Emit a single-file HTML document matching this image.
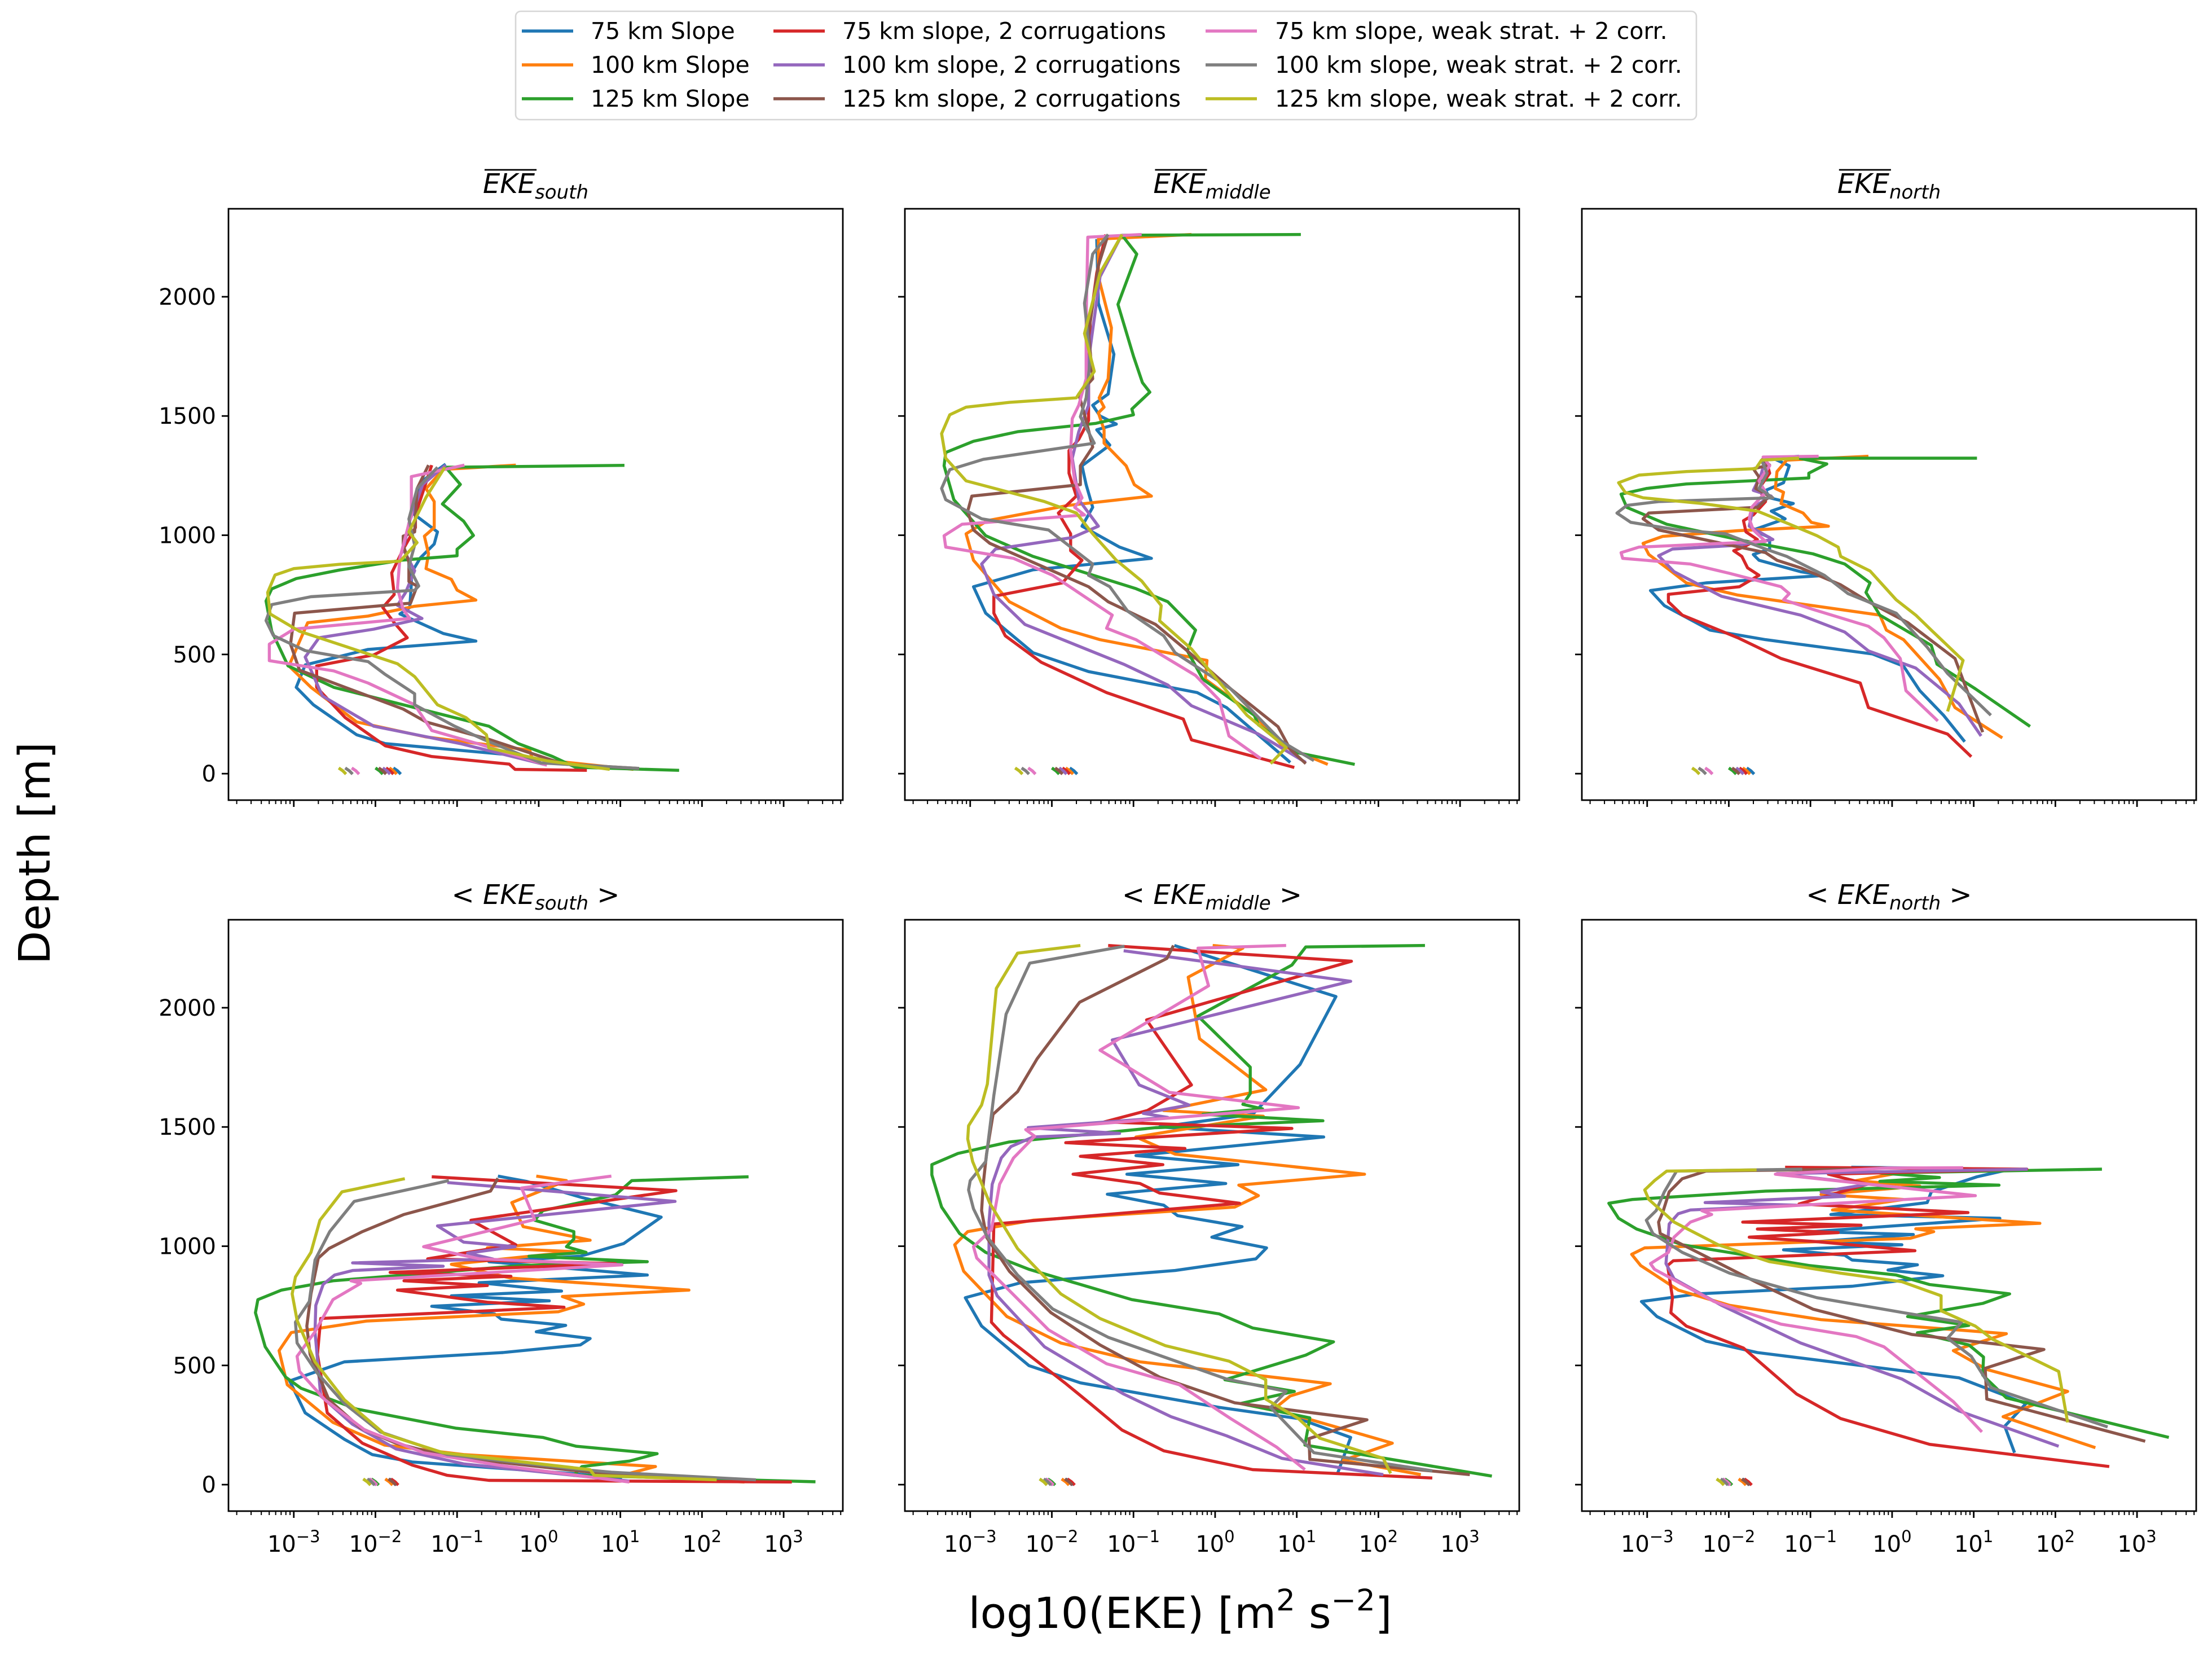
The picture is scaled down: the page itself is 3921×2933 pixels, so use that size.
<!DOCTYPE html>
<html><head><meta charset="utf-8">
<style>
html,body{margin:0;padding:0;background:#fff;}
svg{display:block;font-family:"DejaVu Sans","Liberation Sans",sans-serif;}
</style></head>
<body>
<svg id="fig" xmlns="http://www.w3.org/2000/svg" width="3921" height="2933" viewBox="0 0 3921 2933">
<rect x="0" y="0" width="3921" height="2933" fill="#fff"/>
<text transform="translate(88,1512) rotate(-90)" text-anchor="middle" font-size="77">Depth [m]</text>
<text x="2092" y="2885" text-anchor="middle" font-size="76">log10(EKE) [m<tspan font-size="53" dy="-31">2</tspan><tspan dy="31"> s</tspan><tspan font-size="53" dy="-31">−2</tspan><tspan dy="31">]</tspan></text>
</svg>
<script>
// ---------------- data: [log10(EKE), depth m] ----------------
const seriesLabels = ["75 km Slope","100 km Slope","125 km Slope","75 km slope, 2 corrugations","100 km slope, 2 corrugations","125 km slope, 2 corrugations","75 km slope, weak strat. + 2 corr.","100 km slope, weak strat. + 2 corr.","125 km slope, weak strat. + 2 corr."];
const seriesColors = ["#1f77b4","#ff7f0e","#2ca02c","#d62728","#9467bd","#8c564b","#e377c2","#7f7f7f","#bcbd22"];
const yTickValues = [0,500,1000,1500,2000];
const xTickExponents = [-3,-2,-1,0,1,2,3];
const topMarkerEke = [-1.73,-1.78,-1.95,-1.82,-1.86,-1.91,-2.24,-2.32,-2.40];
const bottomMarkerEke = [-1.78,-1.83,-2.0,-1.76,-2.03,-1.79,-2.02,-2.05,-2.10];

// top-left: mean EKE south
const tlBlue=[[-1.14,1298],[-1.45,1222],[-1.52,1086],[-1.24,1014],[-1.28,963],[-1.45,905],[-1.56,842],[-1.56,796],[-1.58,697],[-1.7,670],[-1.17,588],[-0.77,556],[-2.09,521],[-2.86,456],[-2.97,362],[-2.76,289],[-2.23,163],[-1.88,126],[-0.25,76],[0.45,36]];
const tlOrange=[[-0.28,1294],[-1.17,1276],[-1.38,1195],[-1.28,1141],[-1.28,1032],[-1.4,996],[-1.35,923],[-1.38,860],[-1.07,815],[-1.0,770],[-0.77,728],[-1.52,702],[-2.09,661],[-2.83,633],[-3.06,452],[-2.79,362],[-2.23,217],[-1.38,154],[-0.11,99],[-0.08,63],[1.16,18]];
const tlGreen=[[1.05,1293],[-1.14,1285],[-0.96,1213],[-1.18,1131],[-0.92,1059],[-0.8,999],[-1.0,941],[-1.0,914],[-1.66,896],[-2.44,854],[-2.97,818],[-3.27,775],[-3.34,724],[-3.27,597],[-3.07,452],[-2.51,362],[-1.66,289],[-0.61,199],[-0.25,126],[0.17,72],[0.45,27],[1.72,14]];
const tlRed=[[-1.31,1294],[-1.51,1086],[-1.51,1032],[-1.66,941],[-1.8,842],[-1.77,751],[-1.91,697],[-1.77,633],[-1.61,570],[-2.02,498],[-2.72,452],[-2.72,362],[-2.37,235],[-1.88,117],[-1.31,72],[-0.36,40],[-0.29,18],[0.59,14]];
const tlPurple=[[-1.14,1294],[-1.42,1213],[-1.59,1050],[-1.66,941],[-1.52,851],[-1.63,760],[-1.73,706],[-1.43,651],[-2.02,606],[-2.69,570],[-2.86,489],[-2.65,326],[-2.02,199],[-0.96,126],[0.1,36]];
const tlBrown=[[-1.35,1294],[-1.49,1195],[-1.52,1014],[-1.66,996],[-1.66,959],[-1.59,887],[-1.59,806],[-1.49,787],[-1.57,715],[-1.88,706],[-2.99,673],[-3.04,543],[-2.93,434],[-2.37,362],[-1.66,271],[-1.38,217],[-0.61,144],[0.31,40],[1.23,22]];
const tlPink=[[-0.91,1294],[-1.56,1246],[-1.56,1086],[-1.63,996],[-1.7,905],[-1.73,778],[-1.66,688],[-1.58,651],[-3.0,606],[-3.3,543],[-3.3,474],[-2.51,431],[-2.09,380],[-1.52,289],[-1.31,181],[-0.75,126],[0.1,36]];
const tlGray=[[-1.24,1285],[-1.49,1195],[-1.59,1068],[-1.52,959],[-1.59,869],[-1.47,787],[-1.52,769],[-2.79,742],[-3.27,709],[-3.34,642],[-3.25,579],[-2.86,516],[-2.09,470],[-1.88,416],[-1.52,335],[-1.52,289],[-1.03,199],[-0.68,144],[0.03,45],[1.23,22]];
const tlOlive=[[-1.15,1285],[-1.38,1159],[-1.59,1014],[-1.49,969],[-1.66,905],[-1.7,891],[-2.44,878],[-3.0,860],[-3.23,833],[-3.32,760],[-3.29,670],[-2.93,597],[-2.37,534],[-1.73,461],[-1.52,407],[-1.24,289],[-0.89,235],[-0.64,163],[-0.61,108],[0.1,54],[0.87,18]];

// top-middle: mean EKE middle
const tmBlue=[[-1.45,2242],[-1.43,1973],[-1.24,1759],[-1.31,1592],[-1.5,1545],[-1.41,1500],[-1.21,1466],[-1.45,1442],[-1.29,1378],[-1.63,1291],[-1.58,1212],[-1.5,1117],[-1.63,1038],[-1.17,950],[-0.78,903],[-2.23,855],[-2.96,784],[-2.81,673],[-2.23,507],[-1.55,428],[-0.22,340],[0.14,277],[0.92,47]];
const tmOrange=[[-0.29,2261],[-1.43,2242],[-1.43,2084],[-1.27,1870],[-1.31,1656],[-1.42,1576],[-1.36,1537],[-1.43,1513],[-1.36,1442],[-1.36,1386],[-1.09,1291],[-0.99,1212],[-0.78,1164],[-1.8,1125],[-2.79,1061],[-3.05,1006],[-2.96,895],[-2.52,721],[-1.89,610],[-1.41,562],[-0.1,475],[-0.12,396],[0.48,245],[0.82,118],[1.38,39]];
const tmGreen=[[1.05,2261],[-1.14,2258],[-0.96,2179],[-1.19,1968],[-1.0,1751],[-0.89,1640],[-0.8,1600],[-1.02,1529],[-1.0,1505],[-1.46,1469],[-2.42,1434],[-2.96,1394],[-3.3,1347],[-3.32,1291],[-3.2,1149],[-2.81,998],[-2.23,911],[-0.97,776],[-0.58,721],[-0.24,602],[-0.34,515],[-0.15,396],[0.48,245],[0.53,205],[1.02,87],[1.71,39]];
const tmRed=[[-1.34,2261],[-1.45,2100],[-1.53,1894],[-1.55,1672],[-1.55,1481],[-1.67,1402],[-1.79,1355],[-1.79,1260],[-1.7,1164],[-1.92,1093],[-1.77,1006],[-1.77,935],[-1.63,895],[-1.87,800],[-2.71,744],[-2.71,673],[-2.57,578],[-2.13,467],[-1.33,340],[-0.39,229],[-0.29,142],[0.97,26]];
const tmPurple=[[-1.14,2261],[-1.41,2084],[-1.55,1735],[-1.55,1545],[-1.67,1434],[-1.75,1323],[-1.67,1149],[-1.43,1038],[-1.75,990],[-2.69,942],[-2.86,879],[-2.71,752],[-2.33,626],[-1.12,459],[-0.58,372],[-0.29,285],[0.53,166],[1.11,47]];
const tmBrown=[[-1.31,2261],[-1.43,2131],[-1.55,1846],[-1.5,1656],[-1.67,1592],[-1.58,1481],[-1.5,1370],[-1.65,1291],[-1.65,1212],[-2.98,1164],[-3.03,1101],[-2.96,1022],[-2.76,966],[-1.55,784],[-1.31,721],[-0.73,626],[-0.34,515],[0.19,356],[0.77,197],[0.92,102],[1.11,42]];
const tmPink=[[-0.9,2261],[-1.56,2250],[-1.58,1894],[-1.58,1656],[-1.67,1545],[-1.75,1489],[-1.77,1355],[-1.72,1228],[-1.63,1157],[-1.72,1117],[-1.6,1085],[-3.1,1046],[-3.32,998],[-3.3,950],[-2.47,903],[-1.99,832],[-1.26,665],[-1.33,610],[-0.97,562],[-0.24,412],[0.05,309],[0.17,158],[0.56,63]];
const tmGray=[[-1.31,2261],[-1.5,2179],[-1.6,1973],[-1.53,1735],[-1.58,1576],[-1.65,1497],[-1.48,1386],[-2.84,1318],[-3.25,1275],[-3.35,1196],[-3.3,1149],[-2.86,1069],[-2.04,1022],[-1.5,879],[-1.55,832],[-1.29,784],[-1.07,681],[-0.63,578],[-0.49,507],[0.19,356],[0.82,134],[1.21,55]];
const tmOlive=[[-1.14,2261],[-1.41,2100],[-1.6,1846],[-1.48,1687],[-1.67,1592],[-1.7,1576],[-2.52,1557],[-3.05,1537],[-3.25,1505],[-3.35,1426],[-3.3,1323],[-3.05,1228],[-2.09,1141],[-1.7,1093],[-1.5,1006],[-1.21,895],[-0.9,808],[-0.66,705],[-0.68,641],[-0.29,523],[0.39,245],[0.87,110],[0.68,42]];

// top-right: mean EKE north
const trBlue=[[-1.14,1331],[-1.46,1323],[-1.26,1291],[-1.33,1220],[-1.55,1188],[-1.5,1157],[-1.21,1133],[-1.48,1101],[-1.31,1069],[-1.7,1022],[-1.5,990],[-1.5,942],[-1.7,919],[-1.63,895],[-1.12,847],[-0.83,831],[-2.28,800],[-2.96,768],[-2.79,705],[-2.23,602],[-1.55,562],[-0.24,502],[0.14,451],[0.34,348],[0.63,245],[0.89,134]];
const trOrange=[[-0.29,1331],[-1.29,1315],[-1.41,1267],[-1.43,1196],[-1.33,1180],[-1.36,1133],[-1.09,1093],[-0.99,1054],[-0.78,1038],[-1.89,1019],[-2.81,995],[-3.05,966],[-2.98,919],[-2.76,863],[-2.52,800],[-1.89,749],[-1.31,721],[-0.15,665],[-0.07,602],[0.14,562],[0.58,396],[0.77,277],[1.35,150]];
const trGreen=[[1.04,1323],[-1.14,1323],[-0.8,1299],[-1.02,1260],[-1.02,1240],[-2.52,1215],[-3.01,1196],[-3.32,1172],[-3.25,1117],[-2.76,1046],[-1.89,982],[-0.97,922],[-0.58,879],[-0.27,800],[-0.32,760],[-0.15,665],[0.48,538],[0.55,459],[1.02,356],[1.69,198]];
const trRed=[[-1.55,1323],[-1.5,1260],[-1.63,1196],[-1.55,1141],[-1.7,1085],[-1.82,1061],[-1.79,1014],[-1.65,982],[-1.82,950],[-1.94,935],[-1.84,911],[-1.77,863],[-1.63,832],[-1.87,784],[-2.74,752],[-2.74,721],[-2.57,665],[-1.89,570],[-1.36,483],[-0.39,380],[-0.29,277],[0.68,166],[0.97,71]];
const trPurple=[[-1.55,1323],[-1.6,1260],[-1.7,1188],[-1.48,1164],[-1.7,1117],[-1.75,1038],[-1.46,982],[-1.89,958],[-2.69,942],[-2.86,914],[-2.67,847],[-2.09,744],[-1.12,665],[-0.58,594],[-0.29,515],[0.29,443],[0.82,293],[1.09,158]];
const trBrown=[[-1.6,1323],[-1.5,1294],[-1.7,1279],[-1.63,1244],[-1.67,1196],[-1.5,1164],[-1.65,1117],[-2.98,1093],[-3.05,1069],[-2.86,1022],[-1.55,927],[-1.41,895],[-1.12,863],[-0.63,792],[-0.29,721],[0.19,634],[0.77,483],[1.11,174]];
const trPink=[[-0.9,1331],[-1.58,1328],[-1.5,1291],[-1.63,1228],[-1.55,1180],[-1.72,1117],[-1.75,1069],[-1.7,1022],[-1.55,974],[-3.1,950],[-3.32,927],[-3.3,903],[-2.47,879],[-1.99,840],[-1.36,784],[-1.26,755],[-1.33,729],[-0.97,689],[-0.29,618],[-0.1,570],[0.1,483],[0.17,348],[0.56,221]];
const trGray=[[-1.14,1323],[-1.6,1315],[-1.53,1260],[-1.63,1196],[-1.46,1157],[-2.86,1141],[-3.25,1125],[-3.37,1093],[-3.2,1054],[-2.62,1022],[-2.04,1006],[-1.55,942],[-1.29,911],[-0.83,832],[-0.54,755],[0.05,673],[0.43,530],[0.68,420],[1.21,245]];
const trOlive=[[-1.14,1323],[-1.6,1315],[-1.67,1279],[-2.52,1267],[-3.1,1252],[-3.35,1220],[-3.27,1180],[-3.05,1157],[-2.33,1133],[-1.65,1101],[-1.31,1054],[-0.92,998],[-0.66,950],[-0.63,911],[-0.27,850],[0.05,729],[0.29,665],[0.48,602],[0.87,475],[0.68,261]];

// bottom-left: <EKE south>
const blBlue=[[-0.5,1294],[-0.15,1272],[0.53,1204],[1.5,1122],[1.04,1011],[0.51,958],[-0.61,935],[1.33,879],[-0.73,847],[0.28,812],[-1.07,792],[0.13,771],[-1.31,748],[-0.54,716],[-0.46,694],[0.33,668],[-0.03,641],[0.63,613],[0.51,586],[-0.44,554],[-2.38,515],[-3.05,435],[-2.86,301],[-2.38,190],[-2.04,126],[-1.55,95],[0.39,47],[1.02,26]];
const blOrange=[[-0.03,1294],[0.34,1275],[-0.33,1183],[-0.19,1082],[0.46,1038],[0.63,1025],[-0.63,993],[0.43,977],[-1.07,924],[-0.34,866],[1.84,816],[0.29,789],[0.55,757],[0.24,725],[-2.11,686],[-3.03,638],[-3.18,562],[-3.08,419],[-2.52,261],[-1.89,166],[-0.92,126],[1.43,76],[1.02,39],[2.52,11]];
const blGreen=[[2.57,1291],[1.14,1275],[0.94,1215],[0.05,1149],[-0.05,1109],[0.43,1061],[0.43,1030],[0.34,998],[0.58,974],[-0.12,958],[1.33,935],[-0.2,919],[-2.52,855],[-3.15,816],[-3.44,776],[-3.47,721],[-3.35,578],[-3.1,451],[-2.91,404],[-2.23,317],[-1.02,237],[0.05,198],[0.46,161],[1.45,130],[1.11,99],[0.53,76],[0.43,39],[3.39,12]];
const blRed=[[-1.31,1291],[1.68,1233],[-0.83,1109],[-0.28,1006],[-1.36,947],[0.94,927],[-1.82,890],[-0.34,874],[-1.65,855],[-0.63,835],[-1.73,816],[-0.63,765],[0.31,744],[-2.67,697],[-2.71,546],[-2.59,301],[-2.16,174],[-1.55,82],[-1.12,39],[-0.61,18],[3.1,11]];
const blPurple=[[-1.12,1267],[1.67,1188],[-1.24,1085],[-0.92,1017],[-0.29,998],[-0.87,971],[-0.56,946],[-2.28,930],[-1.17,916],[-2.28,898],[-2.5,879],[-2.64,840],[-2.73,752],[-2.74,641],[-2.67,372],[-2.28,253],[-1.75,150],[-0.92,87],[1.11,15]];
const blBrown=[[-0.5,1285],[-0.59,1231],[-1.65,1133],[-2.16,1061],[-2.57,990],[-2.7,950],[-2.79,800],[-2.84,665],[-2.8,546],[-2.57,356],[-2.18,237],[-1.75,174],[-1.12,118],[0.63,52],[1.89,31]];
const blPink=[[0.89,1294],[-0.21,1244],[-0.05,1112],[-1.41,998],[-0.73,947],[1.02,922],[-2.3,855],[-2.18,844],[-2.52,776],[-2.74,641],[-2.96,538],[-2.93,475],[-2.62,356],[-2.13,229],[-1.41,134],[-0.44,79],[1.11,11]];
const blGray=[[-1.1,1275],[-2.26,1188],[-2.56,1061],[-2.74,942],[-2.81,768],[-2.98,681],[-2.96,594],[-2.71,467],[-2.38,340],[-1.94,221],[-1.12,126],[0.39,68],[0.89,52],[2.66,20]];
const blOlive=[[-1.64,1283],[-2.41,1228],[-2.68,1109],[-2.79,974],[-2.98,871],[-3.02,800],[-2.96,689],[-2.74,515],[-2.38,356],[-1.89,213],[-1.17,134],[0.63,63],[0.68,39],[2.18,20]];

// bottom-middle: <EKE middle>
const bmBlue=[[-0.5,2261],[1.48,2047],[1.04,1762],[0.46,1553],[-0.68,1500],[1.33,1458],[-0.97,1380],[0.28,1342],[-1.08,1302],[0.13,1263],[-1.32,1218],[-0.63,1172],[-0.46,1128],[0.33,1082],[-0.04,1038],[0.63,993],[0.5,947],[-0.49,898],[-2.38,847],[-3.06,784],[-2.86,665],[-2.28,499],[-1.65,427],[0.05,324],[1.02,277],[1.66,198],[1.5,47]];
const bmOrange=[[-0.03,2261],[0.34,2250],[-0.33,2128],[-0.19,1870],[0.62,1656],[-0.63,1569],[0.59,1545],[-0.97,1458],[-0.49,1386],[1.83,1302],[0.29,1256],[0.53,1212],[0.24,1164],[-2.23,1109],[-3.03,1061],[-3.19,1006],[-3.08,895],[-2.55,705],[-1.89,594],[-0.92,515],[1.41,423],[0.92,372],[0.72,317],[2.17,174],[1.57,102],[2.52,42]];
const bmGreen=[[2.57,2261],[1.11,2255],[0.94,2179],[-0.21,1965],[0.43,1751],[0.43,1640],[0.34,1595],[0.58,1576],[-0.15,1553],[1.32,1526],[-0.73,1497],[-2.52,1437],[-3.15,1389],[-3.47,1342],[-3.47,1299],[-3.35,1164],[-3.13,1053],[-2.81,974],[-2.28,903],[-1.02,776],[0.05,716],[0.46,657],[1.45,599],[1.11,543],[0.12,440],[0.97,391],[0.31,340],[1.16,280],[1.1,166],[3.39,36]];
const bmRed=[[-1.31,2261],[1.67,2195],[-0.84,1949],[-0.29,1676],[-0.83,1569],[-1.36,1521],[0.94,1494],[-1.83,1434],[-0.37,1410],[-1.65,1377],[-0.64,1342],[-1.74,1302],[-0.92,1263],[-0.68,1223],[0.3,1180],[-2.71,1093],[-2.74,681],[-2.59,626],[-1.84,427],[-1.53,340],[-1.14,229],[-0.63,142],[0.46,63],[2.66,28]];
const bmPurple=[[-1.12,2239],[1.66,2111],[-1.26,1865],[-0.93,1676],[-0.32,1592],[-0.88,1557],[-0.58,1540],[-2.29,1497],[-1.17,1473],[-2.23,1458],[-2.5,1418],[-2.62,1370],[-2.73,1260],[-2.77,1101],[-2.77,879],[-2.67,792],[-2.09,578],[-1.12,380],[-0.54,285],[0.14,205],[0.82,110],[2.06,42]];
const bmBrown=[[-0.51,2261],[-0.59,2207],[-1.66,2023],[-2.18,1786],[-2.42,1648],[-2.72,1553],[-2.8,1386],[-2.84,1260],[-2.86,1149],[-2.8,1038],[-2.52,895],[-2.01,721],[-1.41,586],[-0.68,451],[0.24,343],[1.86,272],[1.15,193],[1.16,106],[3.12,42]];
const bmPink=[[0.87,2261],[-0.21,2250],[-0.08,2092],[-1.41,1822],[-0.56,1645],[1.02,1581],[-2.32,1489],[-2.21,1461],[-2.47,1370],[-2.64,1260],[-2.74,1069],[-2.96,998],[-2.92,950],[-2.55,824],[-2.04,649],[-1.33,507],[-0.44,419],[0.19,277],[0.75,158],[1.1,63]];
const bmGray=[[-1.11,2258],[-2.27,2187],[-2.56,1973],[-2.71,1632],[-2.81,1355],[-3.0,1275],[-3.02,1236],[-2.96,1157],[-2.79,1038],[-2.42,879],[-1.99,737],[-1.31,618],[0.14,443],[0.87,391],[0.68,324],[1.21,134],[2.66,58]];
const bmOlive=[[-1.65,2261],[-2.42,2229],[-2.68,2081],[-2.79,1680],[-2.86,1592],[-3.02,1505],[-3.03,1450],[-2.97,1355],[-2.76,1180],[-2.42,990],[-1.89,800],[-1.41,697],[-0.61,583],[0.17,518],[0.62,440],[0.62,359],[1.02,277],[1.28,195],[2.06,110],[2.15,47]];

// bottom-right: <EKE north>
const brBlue=[[-0.5,1331],[1.45,1323],[1.04,1291],[0.48,1228],[0.43,1183],[-0.75,1133],[1.32,1117],[-0.97,1061],[0.26,1049],[-0.92,1019],[0.12,1006],[-1.33,985],[-0.58,962],[-0.49,942],[0.31,922],[-0.05,900],[0.62,876],[-0.49,832],[-2.38,800],[-3.07,768],[-2.88,705],[-2.28,602],[-1.65,554],[0.82,448],[1.64,340],[1.38,245],[1.5,134]];
const brOrange=[[0.34,1323],[-0.44,1275],[0.34,1252],[-0.87,1217],[0.14,1196],[-0.73,1152],[1.81,1096],[0.29,1073],[0.51,1061],[0.22,1033],[-3.03,993],[-3.19,966],[-3.08,919],[-2.62,816],[-1.99,752],[-0.87,692],[0.19,665],[1.4,633],[0.75,562],[1.16,483],[2.15,391],[1.36,285],[2.49,155]];
const brGreen=[[2.57,1323],[-0.15,1307],[0.58,1288],[-0.15,1272],[1.31,1256],[-1.55,1231],[-3.18,1196],[-3.47,1180],[-3.35,1117],[-3.13,1072],[-2.57,1006],[-1.02,919],[0.05,879],[0.46,839],[1.44,800],[1.11,760],[0.19,705],[0.94,668],[0.31,637],[0.94,586],[1.12,535],[1.11,459],[1.4,364],[3.39,198]];
const brRed=[[-1.31,1331],[1.65,1323],[-0.78,1302],[-0.3,1260],[-1.14,1177],[0.93,1141],[-1.83,1101],[-0.38,1088],[-1.65,1072],[-0.66,1057],[-1.75,1038],[-0.92,1019],[0.28,981],[-2.68,939],[-2.75,919],[-2.69,784],[-2.71,721],[-2.52,665],[-1.82,573],[-1.17,380],[-0.63,277],[0.46,169],[2.66,76]];
const brPurple=[[1.66,1323],[-1.41,1304],[-0.29,1260],[-0.87,1228],[-0.58,1209],[-2.29,1183],[-1.17,1172],[-2.47,1152],[-2.62,1136],[-2.73,1093],[-2.77,927],[-2.67,863],[-2.09,752],[-1.12,594],[0.12,443],[0.82,309],[2.04,161]];
const brBrown=[[-0.49,1323],[-2.28,1315],[-2.57,1283],[-2.73,1228],[-2.81,1141],[-2.86,1101],[-2.84,1053],[-2.38,974],[-1.65,847],[-0.97,736],[0.24,630],[1.86,567],[1.14,488],[1.16,359],[3.1,182]];
const brPink=[[0.87,1329],[-0.05,1328],[-1.43,1302],[1.02,1212],[-2.33,1149],[-2.21,1133],[-2.47,1101],[-2.67,1038],[-2.74,974],[-2.96,927],[-2.91,903],[-2.18,768],[-1.36,673],[-0.44,621],[-0.1,578],[0.75,348],[1.1,221]];
const brGray=[[-1.1,1323],[-2.64,1315],[-2.79,1228],[-2.89,1149],[-3.01,1109],[-2.93,1053],[-2.57,974],[-1.99,887],[-0.92,784],[0.14,721],[0.85,681],[0.68,614],[0.97,538],[1.21,407],[2.64,242]];
const brOlive=[[-1.66,1320],[-2.76,1315],[-2.91,1275],[-3.03,1236],[-2.98,1196],[-2.67,1101],[-2.13,1006],[-1.5,935],[-0.63,887],[0.12,851],[0.6,792],[0.6,729],[1.02,665],[1.23,610],[2.04,475],[2.15,261]];

// ---------------- layout ----------------
const NS="http://www.w3.org/2000/svg";
const svg=document.getElementById('fig');
const X_MIN=-3.8, X_MAX=3.725, Y_MIN=-111, Y_MAX=2369;
const PW=1089, PH=1048;
const colLeft=[405,1604,2804], rowTop=[370,1630];
function el(tag,attrs,parent){const e=document.createElementNS(NS,tag);for(const k in attrs)e.setAttribute(k,attrs[k]);(parent||svg).appendChild(e);return e;}

const panels=[
 {key:'south-mean',col:0,row:0,stat:'mean',sub:'south',series:[tlBlue,tlOrange,tlGreen,tlRed,tlPurple,tlBrown,tlPink,tlGray,tlOlive],markers:topMarkerEke},
 {key:'middle-mean',col:1,row:0,stat:'mean',sub:'middle',series:[tmBlue,tmOrange,tmGreen,tmRed,tmPurple,tmBrown,tmPink,tmGray,tmOlive],markers:topMarkerEke},
 {key:'north-mean',col:2,row:0,stat:'mean',sub:'north',series:[trBlue,trOrange,trGreen,trRed,trPurple,trBrown,trPink,trGray,trOlive],markers:topMarkerEke},
 {key:'south-avg',col:0,row:1,stat:'avg',sub:'south',series:[blBlue,blOrange,blGreen,blRed,blPurple,blBrown,blPink,blGray,blOlive],markers:bottomMarkerEke},
 {key:'middle-avg',col:1,row:1,stat:'avg',sub:'middle',series:[bmBlue,bmOrange,bmGreen,bmRed,bmPurple,bmBrown,bmPink,bmGray,bmOlive],markers:bottomMarkerEke},
 {key:'north-avg',col:2,row:1,stat:'avg',sub:'north',series:[brBlue,brOrange,brGreen,brRed,brPurple,brBrown,brPink,brGray,brOlive],markers:bottomMarkerEke}
];

panels.forEach((p,pi)=>{
  const L=colLeft[p.col], T=rowTop[p.row];
  const xs=v=>L+(v-X_MIN)/(X_MAX-X_MIN)*PW;
  const ys=d=>T+(Y_MAX-d)/(Y_MAX-Y_MIN)*PH;
  const g=el('g',{});
  
  
  const cp=el('clipPath',{id:'clip'+pi},g);
  el('rect',{x:L,y:T,width:PW,height:PH},cp);
  const lines=el('g',{'clip-path':'url(#clip'+pi+')'},g);
  p.series.forEach((s,si)=>{
    const path=el('polyline',{points:s.map(q=>xs(q[0]).toFixed(1)+','+ys(q[1]).toFixed(1)).join(' '),fill:'none',stroke:seriesColors[si],'stroke-width':5.4,'stroke-linejoin':'round','stroke-linecap':'butt'},lines);
    
    
  });
  p.markers.forEach((m,si)=>{
    const mk=el('polyline',{points:[[m-0.05,24],[m,12],[m+0.04,-2]].map(q=>xs(q[0]).toFixed(1)+','+ys(q[1]).toFixed(1)).join(' '),fill:'none',stroke:seriesColors[si],'stroke-width':5.4},lines);
    
    
  });
  el('rect',{x:L,y:T,width:PW,height:PH,fill:'none',stroke:'#000','stroke-width':2.8},g);
  yTickValues.forEach(v=>{
    el('line',{x1:L,x2:L-12,y1:ys(v),y2:ys(v),stroke:'#000','stroke-width':2.8},g);
    if(p.col===0){
      const t=el('text',{x:L-22,y:ys(v)+14,'text-anchor':'end','font-size':40},g);
      t.textContent=String(v);
      
      
    }
  });
  for(let d=-4;d<=3;d++){for(let k=2;k<=9;k++){const v=d+Math.log10(k);if(v>X_MIN&&v<X_MAX){el('line',{x1:xs(v),x2:xs(v),y1:T+PH,y2:T+PH+7,stroke:'#000','stroke-width':2},g);}}}
  xTickExponents.forEach(e=>{
    el('line',{x1:xs(e),x2:xs(e),y1:T+PH,y2:T+PH+12,stroke:'#000','stroke-width':2.8},g);
    if(p.row===1){
      const t=el('text',{x:xs(e),y:T+PH+72,'text-anchor':'middle','font-size':40},g);
      
      
      const a=el('tspan',{},t);a.textContent='10';
      const b=el('tspan',{dy:-17,'font-size':29},t);b.textContent=(e<0?'−':'')+Math.abs(e);
    }
  });
  const cx=L+PW/2, ty=T-28;
  const tt=el('text',{x:cx,y:ty,'text-anchor':'middle','font-size':48},g);
  
  
  if(p.stat==='avg'){const a=el('tspan',{},tt);a.textContent='< ';}
  const e1=el('tspan',{'font-style':'italic'},tt);e1.textContent='EKE';
  const e2=el('tspan',{'font-style':'italic','font-size':34,dy:10},tt);e2.textContent=p.sub;
  if(p.stat==='avg'){const c=el('tspan',{dy:-10},tt);c.textContent=' >';}
  else{
    const total=tt.getComputedTextLength();
    const ekeLen=tt.getSubStringLength(0,3);
    const x0=cx-total/2;
    el('line',{x1:x0+3,x2:x0+ekeLen+3,y1:ty-41,y2:ty-41,stroke:'#000','stroke-width':2.8},g);
  }
});

// ---------------- legend ----------------
const lg=el('g',{});


el('rect',{x:914,y:20,width:2093,height:192,rx:9,fill:'#fff','fill-opacity':0.8,stroke:'#d6d6d6','stroke-width':2.6},lg);
const legCols=[[925,1047],[1371,1493],[2137,2260]];
const legRows=[55,115,175];
seriesLabels.forEach((lab,i)=>{
  const c=legCols[Math.floor(i/3)], r=legRows[i%3];
  const item=el('g',{},lg);
  
  
  el('line',{x1:c[0],x2:c[0]+91,y1:r,y2:r,stroke:seriesColors[i],'stroke-width':5.4},item);
  const t=el('text',{x:c[1],y:r+14,'font-size':41},item);
  t.textContent=lab;
});
</script>
</body></html>
